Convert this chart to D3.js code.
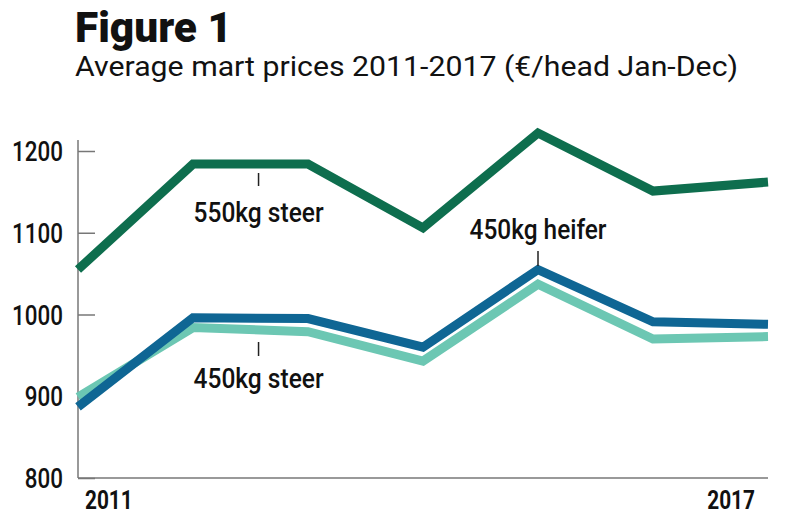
<!DOCTYPE html>
<html><head><meta charset="utf-8">
<script src="https://cdn.jsdelivr.net/npm/d3@7"></script>
<style>body{margin:0;background:#fff}svg{display:block}</style>
</head><body>
<svg id="c" width="790" height="520"></svg>
<script>
const years = [2011, 2012, 2013, 2014, 2015, 2016, 2017];
const steer550 = [1055, 1184, 1184, 1106, 1222, 1151, 1162];
const heifer450 = [887, 996, 995, 960, 1055, 991, 988];
const steer450 = [899, 984, 979, 943, 1037, 970, 973];
const yTicks = [800, 900, 1000, 1100, 1200];
const xTickLabels = [2011, 2017];

const svg = d3.select("#c");
const x = d3.scaleLinear().domain([2011, 2017]).range([78, 768]);
const y = d3.scaleLinear().domain([800, 1200]).range([478, 151]);
const font = "Roboto,'Noto Sans',sans-serif";

function squeeze(sel, f) {
  sel.each(function() {
    const w = this.getComputedTextLength();
    d3.select(this).attr("textLength", w * f).attr("lengthAdjust", "spacingAndGlyphs");
  });
}
function fitTo(sel, w) {
  sel.attr("textLength", w).attr("lengthAdjust", "spacingAndGlyphs");
}

const title = svg.append("text").attr("x", 75).attr("y", 42).text("Figure 1")
  .attr("font-family", font).attr("font-weight", 900).attr("font-size", 42).attr("fill", "#111");
fitTo(title, 157);
const sub = svg.append("text").attr("x", 75).attr("y", 76).text("Average mart prices 2011-2017 (€/head Jan-Dec)")
  .attr("font-family", font).attr("font-size", 27).attr("fill", "#111");
fitTo(sub, 663);

// axes
const yAxis = svg.append("g").attr("transform", "translate(78,0)")
  .call(d3.axisRight(y).tickValues(yTicks).tickSize(17).tickFormat(""));
yAxis.select(".domain").remove();
yAxis.selectAll("line").attr("stroke", "#777").attr("stroke-width", 1.5);
svg.append("line").attr("x1", 78).attr("x2", 78).attr("y1", 140).attr("y2", 478).attr("stroke", "#777").attr("stroke-width", 1.5);
svg.append("line").attr("x1", 78).attr("x2", 768).attr("y1", 478).attr("y2", 478).attr("stroke", "#777").attr("stroke-width", 1.5);

const yl = svg.selectAll(".ylab").data(yTicks).enter().append("text")
  .attr("x", 63).attr("y", d => y(d) + 10).attr("text-anchor", "end").text(d => d)
  .attr("font-family", font).attr("font-weight", 500).attr("font-size", 28).attr("fill", "#111");
squeeze(yl, 0.8);

const xl = svg.selectAll(".xlab").data(xTickLabels).enter().append("text")
  .attr("x", (d, i) => i === 0 ? x(d) + 7 : x(d) - 13)
  .attr("text-anchor", (d, i) => i === 0 ? "start" : "end")
  .attr("y", 509).text(d => d)
  .attr("font-family", font).attr("font-weight", 700).attr("font-size", 26).attr("fill", "#111");
squeeze(xl, 0.8);

const line = d3.line().x((d, i) => x(years[i])).y(d => y(d));
[[steer450, "#6cc7b3"], [heifer450, "#0f6694"], [steer550, "#0e6e4e"]].forEach(([vals, col]) => {
  svg.append("path").attr("d", line(vals)).attr("fill", "none").attr("stroke", col)
    .attr("stroke-width", 9).attr("stroke-linejoin", "miter");
});

// annotations
const ann = [
  {t: "550kg steer", x: 2012.57, y1: 173, y2: 186, ty: 222, w: 130},
  {t: "450kg heifer", x: 2015.0, y1: 251, y2: 266, ty: 239, w: 137},
  {t: "450kg steer", x: 2012.57, y1: 342, y2: 356, ty: 388, w: 130}
];
ann.forEach(a => {
  svg.append("line").attr("x1", x(a.x)).attr("x2", x(a.x)).attr("y1", a.y1).attr("y2", a.y2)
    .attr("stroke", "#222").attr("stroke-width", 1.5);
  const t = svg.append("text").attr("x", x(a.x)).attr("y", a.ty).attr("text-anchor", "middle").text(a.t)
    .attr("font-family", font).attr("font-weight", 500).attr("font-size", 28).attr("fill", "#111");
  fitTo(t, a.w);
});
</script>
</body></html>
